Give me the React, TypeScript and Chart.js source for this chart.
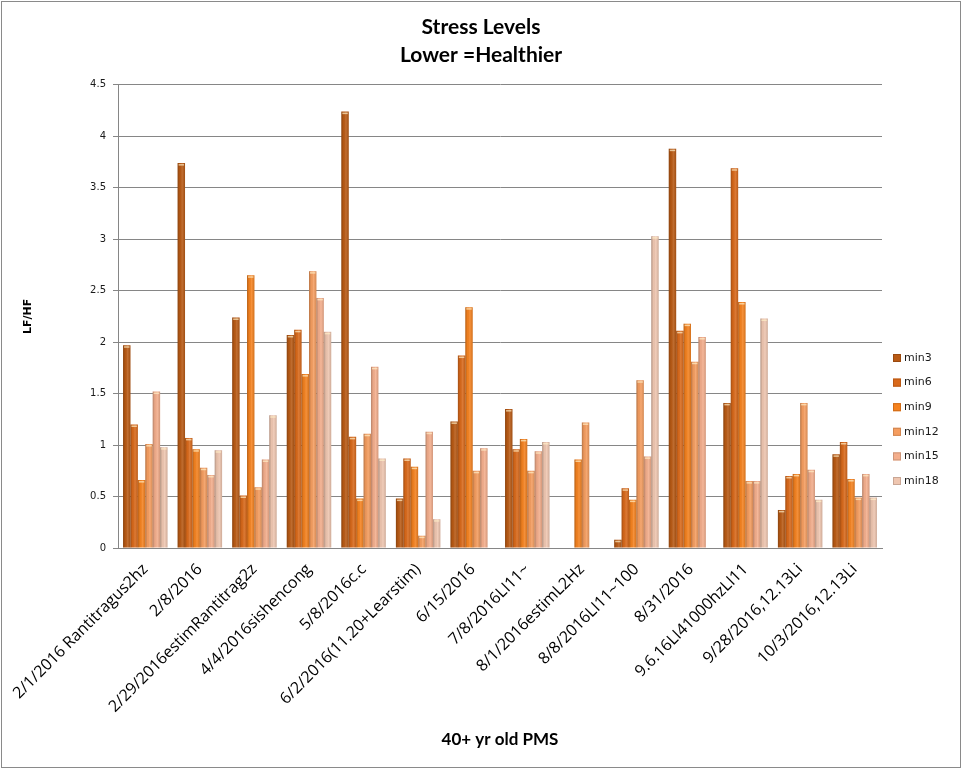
import React, { useEffect, useRef } from 'react';
import { Chart, registerables } from 'chart.js';

Chart.register(...registerables);

const categories = [
  '2/1/2016 Rantitragus2hz',
  '2/8/2016',
  '2/29/2016estimRantitrag2z',
  '4/4/2016sishencong',
  '5/8/2016c.c',
  '6/2/2016(11.20+Learstim)',
  '6/15/2016',
  '7/8/2016LI11~',
  '8/1/2016estimL2Hz',
  '8/8/2016LI11~100',
  '8/31/2016',
  '9.6.16LI41000hzLI11',
  '9/28/2016,12.13Li',
  '10/3/2016,12.13Li',
];

const seriesNames = ['min3', 'min6', 'min9', 'min12', 'min15', 'min18'];

const min3 = [1.97, 3.74, 2.24, 2.07, 4.24, 0.48, 1.23, 1.35, null, 0.08, 3.88, 1.41, 0.37, 0.91];
const min6 = [1.2, 1.07, 0.51, 2.12, 1.08, 0.87, 1.87, 0.96, null, 0.58, 2.11, 3.69, 0.7, 1.03];
const min9 = [0.66, 0.96, 2.65, 1.69, 0.48, 0.79, 2.34, 1.06, 0.86, 0.47, 2.18, 2.39, 0.72, 0.67];
const min12 = [1.01, 0.78, 0.59, 2.69, 1.11, 0.12, 0.75, 0.75, 1.22, 1.63, 1.81, 0.65, 1.41, 0.49];
const min15 = [1.52, 0.71, 0.86, 2.43, 1.76, 1.13, 0.97, 0.94, null, 0.89, 2.05, 0.65, 0.76, 0.72];
const min18 = [0.98, 0.95, 1.29, 2.1, 0.87, 0.28, null, 1.03, null, 3.03, null, 2.23, 0.47, 0.49];

const seriesValues = [min3, min6, min9, min12, min15, min18];
const seriesColors = ['#B95A14', '#D9691A', '#F5821F', '#F59D5F', '#F4AE8C', '#EFC6B0'];
const seriesBorders = ['#9A4A10', '#B85814', '#D06C18', '#D0854F', '#CC9478', '#C9A694'];

const yTicks = [0, 0.5, 1, 1.5, 2, 2.5, 3, 3.5, 4, 4.5];

const W = 962;
const H = 769;

const framePlugin = {
  id: 'frame',
  beforeDraw(chart: any) {
    const ctx = chart.ctx;
    ctx.save();
    ctx.fillStyle = '#ffffff';
    ctx.fillRect(0, 0, chart.width, chart.height);
    ctx.strokeStyle = '#8a8a8a';
    ctx.lineWidth = 1;
    ctx.strokeRect(1.5, 1.5, chart.width - 3, chart.height - 3);
    ctx.restore();
  },
};

const shadePlugin = {
  id: 'shade',
  afterDatasetsDraw(chart: any) {
    const ctx = chart.ctx;
    ctx.save();
    chart.data.datasets.forEach((_ds: any, di: number) => {
      const meta = chart.getDatasetMeta(di);
      meta.data.forEach((el: any) => {
        const { x, y, base, width } = el.getProps(['x', 'y', 'base', 'width'], true);
        if (y == null || isNaN(y) || base - y < 0.5) return;
        const left = x - width / 2;
        const g = ctx.createLinearGradient(left, 0, left + width, 0);
        g.addColorStop(0, 'rgba(0,0,0,0.25)');
        g.addColorStop(0.3, 'rgba(0,0,0,0.03)');
        g.addColorStop(0.6, 'rgba(255,255,255,0.12)');
        g.addColorStop(1, 'rgba(0,0,0,0.14)');
        ctx.fillStyle = g;
        ctx.fillRect(left, y, width, base - y);
        ctx.fillStyle = 'rgba(255,240,200,0.7)';
        ctx.fillRect(left + 1, y + 1, width - 2, 1.5);
      });
    });
    ctx.restore();
  },
};

const legendPlugin = {
  id: 'sideLegend',
  afterDraw(chart: any) {
    const ctx = chart.ctx;
    ctx.save();
    const x0 = chart.chartArea.right + 11;
    const y0 = 358;
    const step = 24.6;
    ctx.font = '11px "DejaVu Sans"';
    ctx.textBaseline = 'middle';
    ctx.textAlign = 'left';
    chart.data.datasets.forEach((ds: any, i: number) => {
      const cy = y0 + i * step;
      ctx.fillStyle = ds.backgroundColor;
      ctx.fillRect(x0, cy - 4, 8, 8);
      ctx.strokeStyle = ds.borderColor;
      ctx.lineWidth = 1;
      ctx.strokeRect(x0 + 0.5, cy - 3.5, 7, 7);
      ctx.fillStyle = '#1a1a1a';
      ctx.fillText(ds.label, x0 + 11, cy);
    });
    ctx.restore();
  },
};

export default function App() {
  const ref = useRef<HTMLCanvasElement | null>(null);

  useEffect(() => {
    if (!ref.current) return;
    const chart = new Chart(ref.current, {
      type: 'bar',
      data: {
        labels: categories,
        datasets: seriesNames.map((name, i) => ({
          label: name,
          data: seriesValues[i] as any,
          backgroundColor: seriesColors[i],
          borderColor: seriesBorders[i],
          borderWidth: 0,
          categoryPercentage: 0.815,
          barPercentage: 1.0,
        })),
      },
      options: {
        responsive: false,
        animation: false,
        devicePixelRatio: 1,
        layout: { padding: { left: 0, right: 0, top: 0, bottom: 0 } },
        plugins: {
          legend: { display: false },
          tooltip: { enabled: false },
          title: {
            display: true,
            text: ['Stress Levels', 'Lower =Healthier'],
            color: '#000000',
            font: { family: 'Lato', size: 21, weight: 'bold', lineHeight: 1.33 },
            padding: { top: 13, bottom: 16 },
          },
        },
        scales: {
          x: {
            grid: { display: false },
            border: { display: true, color: '#868686' },
            ticks: {
              autoSkip: false,
              minRotation: 45,
              maxRotation: 45,
              color: '#000000',
              font: { family: 'Open Sans', size: 16 },
              padding: 4,
            },
            title: {
              display: true,
              text: '40+ yr old PMS',
              color: '#000000',
              font: { family: 'Lato', size: 17, weight: 'bold' },
              padding: { top: 0, bottom: 19 },
            },
            afterFit: (scale: any) => {
              scale.height = 221;
            },
          },
          y: {
            min: 0,
            max: 4.5,
            afterBuildTicks: (scale: any) => {
              scale.ticks = yTicks.map((v) => ({ value: v }));
            },
            grid: { color: '#868686', lineWidth: 1, drawTicks: true, tickLength: 5 },
            border: { display: true, color: '#868686' },
            ticks: {
              color: '#1a1a1a',
              font: { family: 'DejaVu Sans', size: 10 },
              padding: 7,
              callback: (v: any) => String(v),
            },
            title: {
              display: true,
              text: 'LF/HF',
              color: '#000000',
              font: { family: 'DejaVu Sans', size: 11, weight: 'bold' },
              padding: { top: 22, bottom: 0 },
            },
            afterFit: (scale: any) => {
              scale.width = 118;
            },
          },
          legendSpace: {
            type: 'linear',
            position: 'right',
            min: 0,
            max: 1,
            grid: { display: false },
            border: { display: false },
            ticks: { display: false },
            afterFit: (scale: any) => {
              scale.width = 80;
            },
          },
        },
      },
      plugins: [framePlugin, shadePlugin, legendPlugin],
    });
    return () => chart.destroy();
  }, []);

  return (
    <div style={{ position: 'absolute', left: 0, top: 0, width: W, height: H, background: '#fff' }}>
      <canvas ref={ref} width={W} height={H} style={{ display: 'block', width: W, height: H }} />
    </div>
  );
}
